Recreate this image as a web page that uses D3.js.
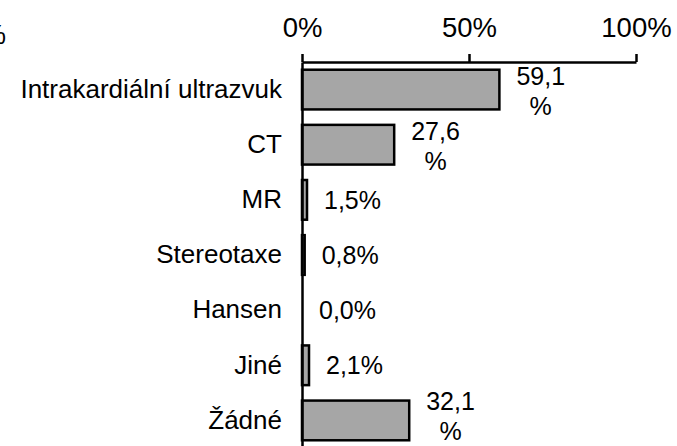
<html>
<head>
<meta charset="utf-8">
<title>Bar Chart</title>
<script type="text/javascript" src="https://cdn.jsdelivr.net/npm/d3@7/dist/d3.min.js"></script>
<style type="text/css">
body { margin: 0; background: white; }
text { font-family: "Liberation Sans", Arial, sans-serif; fill: #000; }
.axis path, .axis line { stroke: #000; stroke-width: 2.5px; }
.bars rect { fill: #a6a6a6; stroke: #000; stroke-width: 2.5px; }
</style>
</head>
<body>
<script>

var categories = ["Intrakardiální ultrazvuk", "CT", "MR", "Stereotaxe", "Hansen", "Jiné", "Žádné"];
var values = [59.1, 27.6, 1.5, 0.8, 0.0, 2.1, 32.1];
var tickValues = [0, 50, 100];

var width = 677,
    height = 446;

var svg = d3.select("body").append("svg").attr("width", width).attr("height", height).style("background", "white");

var x = d3.scaleLinear().domain([0, 100]).range([302, 636]);
var y = d3.scaleBand().domain(categories).range([62, 448]).paddingInner(0.28).paddingOuter(0.14);

function fmt(v) { return v.toFixed(1).replace(".", ",") + "%"; }

// clipped label at the very left edge
svg.append("text").attr("x", 6).attr("y", 44).attr("text-anchor", "end")
  .style("font-size", "27px").text("%");

// top axis
var xAxis = d3.axisTop(x).tickValues(tickValues).tickSizeInner(8).tickSizeOuter(0)
  .tickPadding(17).tickFormat(function(d){ return d + "%"; });
var gx = svg.append("g").attr("class", "axis").attr("transform", "translate(0,62)").call(xAxis);
gx.selectAll("text").style("font-size", "27.5px").attr("font-family", null);

// bars
svg.append("g").attr("class", "bars").selectAll("rect")
  .data(categories).enter().append("rect")
  .attr("x", x(0))
  .attr("y", function(d){ return y(d); })
  .attr("width", function(d, i){ return x(values[i]) - x(0); })
  .attr("height", y.bandwidth());

// left axis with category labels
var yAxis = d3.axisLeft(y).tickSize(0).tickPadding(20);
var gy = svg.append("g").attr("class", "axis").attr("transform", "translate(" + x(0) + ",0)").call(yAxis);
gy.selectAll("text").style("font-size", "26px").attr("font-family", null);

// value labels
var labels = svg.append("g");
categories.forEach(function(c, i){
  var cx = y(c) + y.bandwidth() / 2;
  var left = x(values[i]) + 17;
  var s = fmt(values[i]);
  if (values[i] >= 10) {
    var b2 = Math.min(cx + 25, 440);
    var t1 = labels.append("text").attr("x", left).attr("y", b2 - 30)
      .style("font-size", "25px").text(s.slice(0, -1));
    var w = t1.node().getComputedTextLength();
    labels.append("text").attr("x", left + w / 2).attr("y", b2)
      .attr("text-anchor", "middle").style("font-size", "25px").text("%");
  } else {
    labels.append("text").attr("x", left).attr("y", cx).attr("dy", "0.36em")
      .style("font-size", "25px").text(s);
  }
});

</script>
</body>
</html>
